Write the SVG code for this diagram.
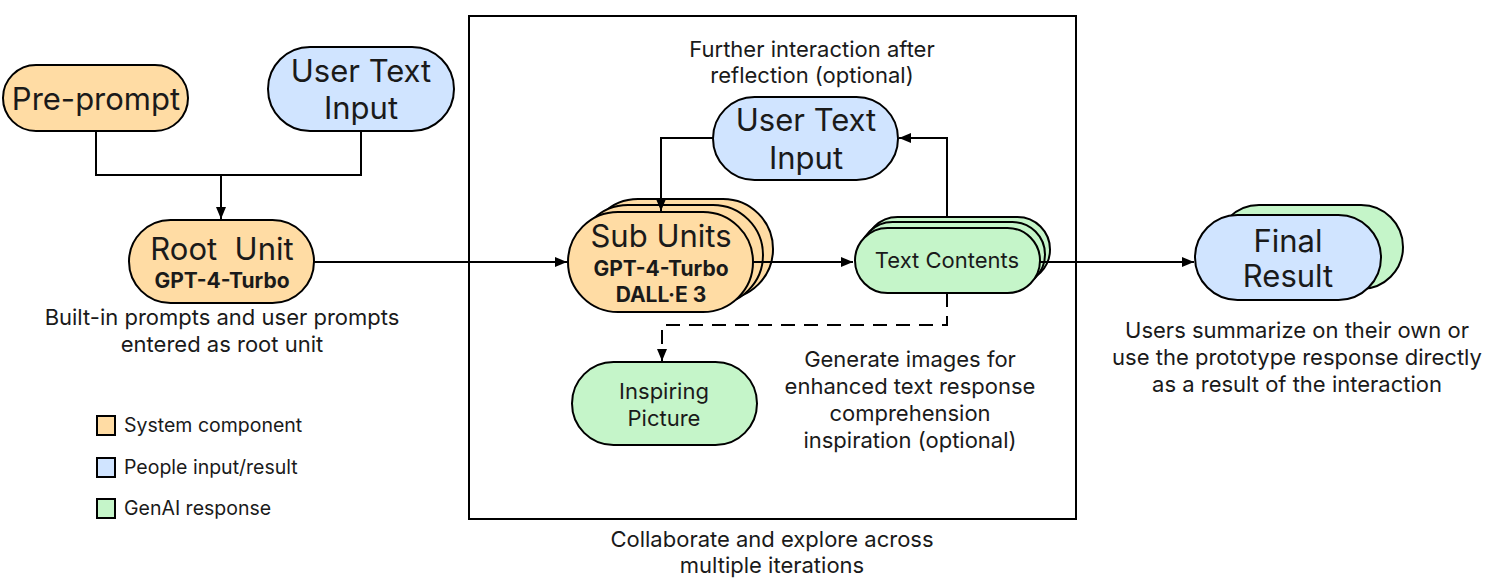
<svg xmlns="http://www.w3.org/2000/svg" width="1487" height="586" viewBox="0 0 1487 586">
<defs>
<marker id="arr" viewBox="0 0 12 10" refX="12" refY="5" markerWidth="12" markerHeight="10" markerUnits="userSpaceOnUse" orient="auto">
<path d="M0,0 L12,5 L0,10 z" fill="#000"/>
</marker>
</defs>
<style>
text{font-family:Inter,"Noto Sans","Liberation Sans",sans-serif;fill:#1a1a1a;text-anchor:middle}
.big{font-size:31px}
.bold{font-size:21px;font-weight:700}
.mid{font-size:22px}
.cap{font-size:22px}
.leg{font-size:19.5px;text-anchor:start}
.o{fill:#ffdca4;stroke:#000;stroke-width:2}
.b{fill:#d0e4ff;stroke:#000;stroke-width:2}
.g{fill:#c5f5c9;stroke:#000;stroke-width:2}
.ln{fill:none;stroke:#000;stroke-width:2}
</style>
<rect x="469" y="16" width="607" height="503" fill="none" stroke="#000" stroke-width="2"/>
<g id="preprompt">
<rect class="o" x="3" y="65" width="185" height="66" rx="33"/>
<text class="big" x="96" y="110">Pre-prompt</text>
</g>
<g id="userinput1">
<rect class="b" x="268" y="47" width="186" height="84" rx="42"/>
<text class="big" x="361" y="82">User Text</text>
<text class="big" x="361" y="119">Input</text>
</g>
<g id="rootunit">
<rect class="o" x="129" y="220" width="185" height="83" rx="41.5"/>
<text class="big" x="222" y="260" xml:space="preserve">Root  Unit</text>
<text class="bold" x="222" y="288">GPT-4-Turbo</text>
</g>
<g id="rootcaption">
<text class="cap" x="222" y="325">Built-in prompts and user prompts</text>
<text class="cap" x="222" y="352">entered as root unit</text>
</g>
<g id="topcaption">
<text class="cap" x="812" y="57">Further interaction after</text>
<text class="cap" x="812" y="83">reflection (optional)</text>
</g>
<g id="userinput2">
<rect class="b" x="713" y="97" width="185" height="83" rx="41.5"/>
<text class="big" x="806" y="131">User Text</text>
<text class="big" x="806" y="169">Input</text>
</g>
<g id="subunits">
<rect class="o" x="588" y="199" width="185" height="100" rx="50"/>
<rect class="o" x="578" y="205" width="185" height="100" rx="50"/>
<rect class="o" x="568" y="212" width="185" height="100" rx="50"/>
<text class="big" x="661" y="247">Sub Units</text>
<text class="bold" x="661" y="276">GPT-4-Turbo</text>
<text class="bold" x="661" y="302">DALL·E 3</text>
</g>
<g id="textcontents">
<rect class="g" x="865" y="217" width="185" height="65" rx="32.5"/>
<rect class="g" x="860" y="222" width="185" height="65" rx="32.5"/>
<rect class="g" x="855" y="228" width="185" height="65" rx="32.5"/>
<text class="mid" x="947" y="268">Text Contents</text>
</g>
<g id="inspiring">
<rect class="g" x="572" y="362" width="185" height="83" rx="41.5"/>
<text class="mid" x="664" y="399">Inspiring</text>
<text class="mid" x="664" y="426">Picture</text>
</g>
<g id="gencaption">
<text class="cap" x="910" y="367">Generate images for</text>
<text class="cap" x="910" y="394">enhanced text response</text>
<text class="cap" x="910" y="421">comprehension</text>
<text class="cap" x="910" y="448">inspiration (optional)</text>
</g>
<g id="bottomcaption">
<text class="cap" x="772" y="547">Collaborate and explore across</text>
<text class="cap" x="772" y="573">multiple iterations</text>
</g>
<g id="finalresult">
<rect class="g" x="1217" y="205" width="186" height="84" rx="42"/>
<rect class="b" x="1195" y="215" width="186" height="85" rx="42.5"/>
<text class="big" x="1288" y="252">Final</text>
<text class="big" x="1288" y="287">Result</text>
</g>
<g id="finalcaption">
<text class="cap" x="1297" y="338">Users summarize on their own or</text>
<text class="cap" x="1297" y="365">use the prototype response directly</text>
<text class="cap" x="1297" y="392">as a result of the interaction</text>
</g>
<g id="legend">
<rect class="o" x="97" y="416" width="18" height="19"/>
<text class="leg" x="124" y="432">System component</text>
<rect class="b" x="97" y="458" width="18" height="19"/>
<text class="leg" x="124" y="474">People input/result</text>
<rect class="g" x="97" y="499" width="18" height="19"/>
<text class="leg" x="124" y="515">GenAI response</text>
</g>
<g id="connectors">
<polyline class="ln" points="96,131 96,175 361,175 361,131"/>
<line class="ln" x1="221" y1="175" x2="221" y2="219" marker-end="url(#arr)"/>
<line class="ln" x1="314" y1="262" x2="567" y2="262" marker-end="url(#arr)"/>
<polyline class="ln" points="713,138 661,138 661,211" marker-end="url(#arr)"/>
<line class="ln" x1="753" y1="262" x2="853" y2="262" marker-end="url(#arr)"/>
<polyline class="ln" points="947,217 947,138 899,138" marker-end="url(#arr)"/>
<polyline class="ln" points="947,293 947,325 662,325 662,361" stroke-dasharray="14,9" marker-end="url(#arr)"/>
<line class="ln" x1="1040" y1="262" x2="1194" y2="262" marker-end="url(#arr)"/>
</g>
</svg>
